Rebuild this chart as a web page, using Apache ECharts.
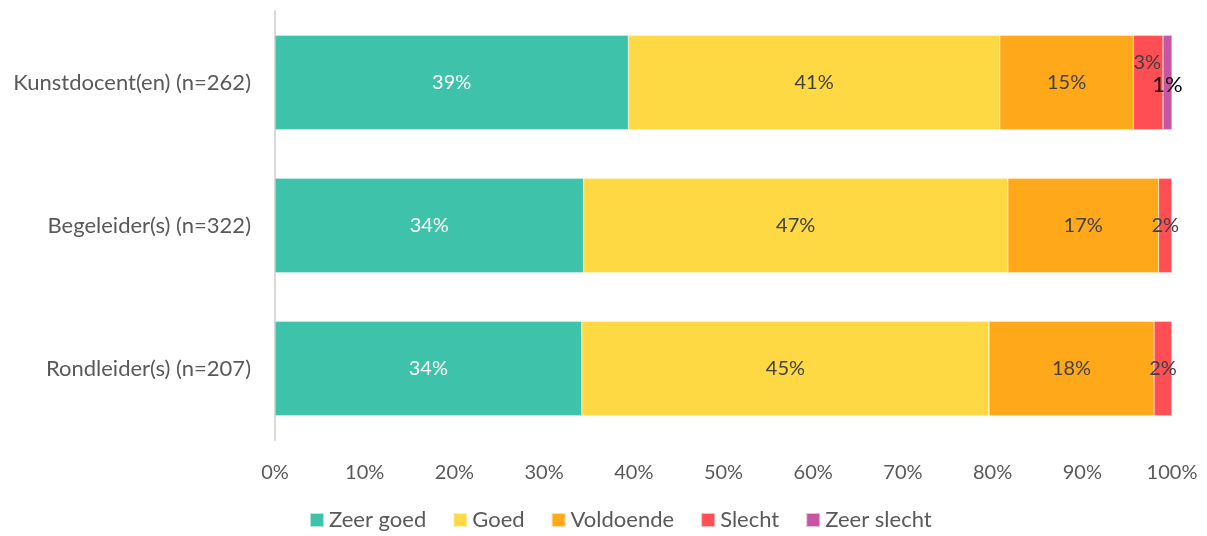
<!DOCTYPE html>
<html><head><meta charset="utf-8">
<script src="https://cdn.jsdelivr.net/npm/echarts@6/dist/echarts.min.js"></script>
<style>html,body{margin:0;padding:0;background:#fff}#c{width:1207px;height:536px}</style>
</head><body><div id="c"></div>
<script>
const categories = ['Kunstdocent(en) (n=262)', 'Begeleider(s) (n=322)', 'Rondleider(s) (n=207)'];
const seriesNames = ['Zeer goed', 'Goed', 'Voldoende', 'Slecht', 'Zeer slecht'];
const zeerGoed = [39.4, 34.4, 34.2];
const goed = [41.4, 47.3, 45.4];
const voldoende = [14.9, 16.8, 18.4];
const slecht = [3.3, 1.5, 2.0];
const zeerSlecht = [1.0, 0, 0];
const xTicks = ['0%','10%','20%','30%','40%','50%','60%','70%','80%','90%','100%'];

const colors = ['#3EC3AA', '#FFD944', '#FFA91A', '#FF4F55', '#C655A6'];
const values = [zeerGoed, goed, voldoende, slecht, zeerSlecht];
const font = 'Lato, "Open Sans", sans-serif';

const series = seriesNames.map((name, si) => ({
  name, type: 'bar', stack: 'total', barCategoryGap: '34%',
  itemStyle: { color: colors[si], borderColor: 'rgba(255,255,255,0.6)', borderWidth: 0.5 },
  label: {
    show: true, position: 'inside', fontFamily: font, fontSize: 20,
    color: si === 0 ? '#ffffff' : '#404040',
    formatter: p => p.value > 0 ? Math.round(p.value) + '%' : ''
  },
  data: values[si].map((v, ci) => {
    const d = { value: v };
    if (si === 3 && ci === 0) d.label = { offset: [-1, -20] };
    if (si === 4 && ci === 0) d.label = { offset: [0, 2], color: '#000000', fontSize: 22 };
    return d;
  })
}));

const chart = echarts.init(document.getElementById('c'));
chart.setOption({
  animation: false,
  textStyle: { fontFamily: font },
  grid: { left: 275, right: 35, top: 11, bottom: 96, containLabel: false },
  xAxis: {
    type: 'value', min: 0, max: 100, interval: 10,
    axisLine: { show: false }, axisTick: { show: false }, splitLine: { show: false },
    axisLabel: { color: '#595959', fontSize: 20, fontFamily: font, margin: 23,
      formatter: v => xTicks[Math.round(v / 10)] }
  },
  yAxis: {
    type: 'category', data: categories, inverse: true,
    axisLine: { show: true, lineStyle: { color: '#D9D9D9', width: 2 } },
    axisTick: { show: false },
    axisLabel: { color: '#595959', fontSize: 22, fontFamily: font, margin: 24 }
  },
  legend: {
    bottom: 0, left: 304, itemWidth: 14, itemHeight: 14, itemGap: 26,
    icon: 'rect', textStyle: { color: '#595959', fontSize: 22, fontFamily: font },
    data: seriesNames
  },
  series
});
</script></body></html>
